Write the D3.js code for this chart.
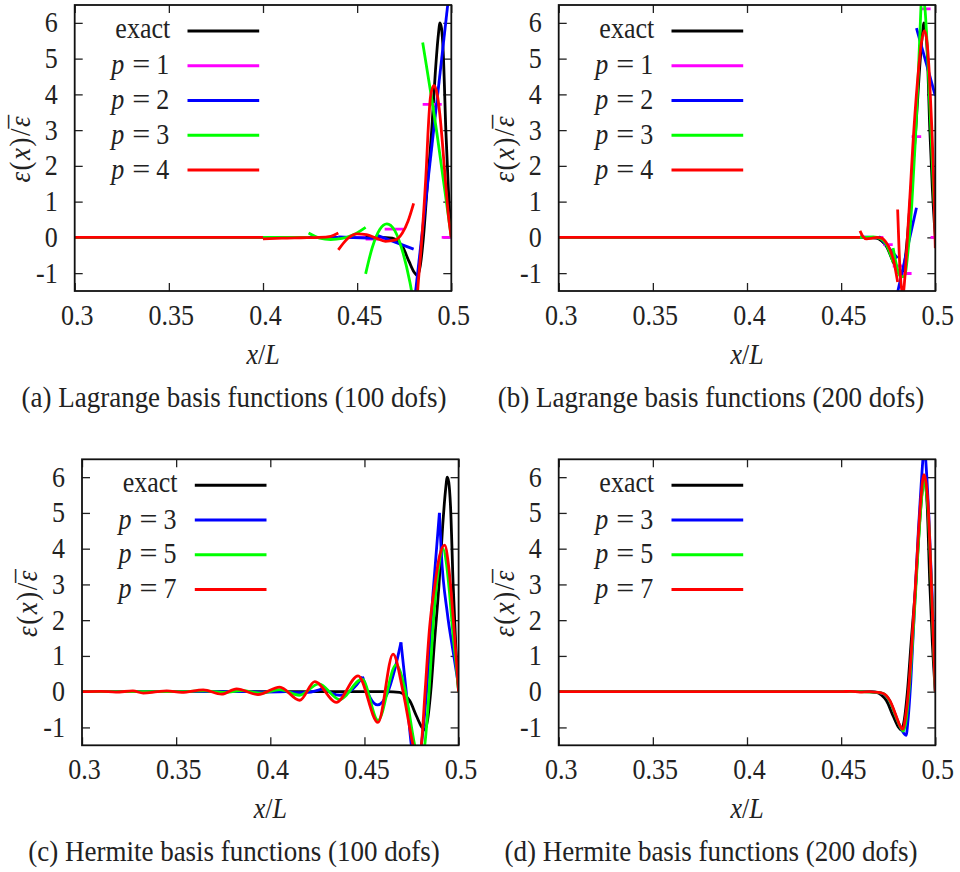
<!DOCTYPE html>
<html><head><meta charset="utf-8">
<script src="https://cdn.jsdelivr.net/npm/d3@7"></script>
<style>
body{margin:0;background:#fff}
svg{display:block}
text{font-family:"Liberation Serif","Times New Roman",serif;fill:#222}
</style>
</head><body>
<svg id="chart" width="960" height="872"></svg>
<script>
// ---------- axes ----------
const xTicks = [0.3, 0.35, 0.4, 0.45, 0.5];
const xTickLabels = ["0.3", "0.35", "0.4", "0.45", "0.5"];
const yTicks = [-1, 0, 1, 2, 3, 4, 5, 6];
const yTickLabels = ["-1", "0", "1", "2", "3", "4", "5", "6"];
const xDomain = [0.3, 0.5];
const yDomain = [-1.5, 6.5];

// ---------- exact solution (shared by all panels) ----------
const exact = [[[0.3,0],[0.462,0.0],[0.4687,-0.02],[0.4715,-0.1],[0.474,-0.25],[0.4776,-0.68],[0.4802,-0.97],[0.482,-1.07],[0.4835,-0.8],[0.4852,0.0],[0.4872,1.4],[0.4896,3.0],[0.4915,4.6],[0.493,5.6],[0.494,6.0],[0.4948,5.85],[0.4957,5.2],[0.4971,3.0],[0.4985,1.3],[0.5,0.0]]];

// ---------- (a) Lagrange, 100 dofs ----------
const aP1 = [[[0.3,0],[0.4545,0]],[[0.4545,-0.05],[0.4646,-0.05]],[[0.4646,0.23],[0.4747,0.23]],[[0.4747,-2.2],[0.4848,-2.2]],[[0.4848,3.72],[0.4949,3.72]],[[0.4949,0],[0.5,0]]];
const aP2 = [[[0.3,0],[0.44,0]],[[0.44,0.01],[0.46,-0.03]],[[0.46,0.07],[0.48,-0.33]],[[0.48,-2.0],[0.5,7.4]]];
const aP3 = [[[0.3,0],[0.4242,0]],[[0.4242,0.12],[0.43,-0.02],[0.436,-0.06],[0.442,-0.03],[0.448,0.07],[0.4545,0.28]],[[0.4545,-1.02],[0.458,-0.29],[0.462,0.22],[0.4658,0.38],[0.47,0.19],[0.474,-0.37],[0.478,-1.25],[0.4848,-3.6]],[[0.4848,5.45],[0.4924,2.9],[0.5,0.0]]];
const aP4 = [[[0.3,0],[0.4,0]],[[0.4,-0.04],[0.41,-0.02],[0.42,-0.01],[0.43,0.0],[0.436,0.03],[0.44,0.12]],[[0.44,-0.35],[0.445,-0.03],[0.45,0.1],[0.455,0.08],[0.46,-0.02],[0.465,-0.11],[0.47,-0.08],[0.474,0.12],[0.477,0.45],[0.48,0.95]],[[0.48,-3.3],[0.482,-1.6],[0.4844,0.0],[0.4868,2.0],[0.4876,2.9],[0.489,3.95],[0.4908,4.25],[0.4925,4.0],[0.494,3.4],[0.4955,2.5],[0.497,1.5],[0.4985,0.6],[0.5,0.0]]];

// ---------- (b) Lagrange, 200 dofs ----------
const bP1 = [[[0.3,0],[0.4724,0]],[[0.4724,-0.2],[0.4774,-0.2]],[[0.4774,-0.8],[0.4824,-0.8]],[[0.4824,-1.01],[0.4874,-1.01]],[[0.4874,2.82],[0.4925,2.82]],[[0.4925,6.39],[0.4975,6.39]],[[0.4975,0],[0.5,0]]];
const bP2 = [[[0.3,0],[0.46,0]],[[0.46,0.01],[0.47,-0.01]],[[0.47,0.03],[0.48,-0.58]],[[0.48,-1.53],[0.49,0.83]],[[0.49,5.85],[0.5,3.96]]];
const bP3 = [[[0.3,0],[0.4627,0]],[[0.4627,0.0],[0.467,0.01],[0.471,-0.04],[0.474,-0.2],[0.4776,-0.7]],[[0.4776,-0.3],[0.4795,-0.8],[0.4815,-1.1],[0.4835,-1.1],[0.4855,-0.4],[0.4875,0.9],[0.4895,2.8],[0.491,4.6],[0.4925,6.6]],[[0.4925,6.9],[0.4945,6.4],[0.496,5.0],[0.4975,3.2],[0.499,1.4],[0.5,0.3]]];
const bP4 = [[[0.3,0],[0.46,0]],[[0.46,0.18],[0.4615,0.03],[0.4635,-0.04],[0.466,-0.03],[0.469,0.0],[0.4715,-0.02],[0.474,-0.15],[0.476,-0.35],[0.478,-0.68],[0.48,-1.25]],[[0.48,0.78],[0.4808,-0.4],[0.4818,-1.3],[0.4828,-1.6],[0.4838,-1.15],[0.4853,0.1],[0.4867,1.3],[0.488,2.5],[0.4906,4.4],[0.4925,5.4],[0.4942,5.78],[0.4955,5.5],[0.4968,4.6],[0.4982,3.0],[0.4993,1.3],[0.5,-0.3]]];

// ---------- (c) Hermite, 100 dofs ----------
const cP3 = [[[0.3,0],[0.3878,0.0]],[[0.3878,0.0],[0.398,-0.01],[0.4082,0.0]],[[0.4082,0.0],[0.414,-0.03],[0.42,-0.02],[0.4286,0.1]],[[0.4286,0.1],[0.433,-0.05],[0.437,-0.1],[0.442,0.0],[0.446,0.2],[0.449,0.42]],[[0.449,0.42],[0.453,-0.17],[0.457,-0.37],[0.462,-0.07],[0.466,0.6],[0.4694,1.38]],[[0.4694,1.38],[0.4722,0.0],[0.4749,-1.5],[0.4775,-2.3],[0.4802,-1.5],[0.483,0.0],[0.4864,2.75],[0.4898,5.0]],[[0.4898,5.0],[0.4908,3.9],[0.494,2.2],[0.497,1.15],[0.5,0.15]]];
const cP5 = [[[0.3,0],[0.35,0.0],[0.365,0.02],[0.375,-0.02],[0.385,0.03],[0.395,-0.04],[0.405,0.06],[0.4155,-0.1],[0.4258,0.22],[0.4368,-0.22],[0.4488,0.35],[0.4572,-0.8],[0.4668,0.75],[0.4718,0.0],[0.4767,-1.5],[0.4792,-2.0],[0.482,-1.5],[0.4843,0.0],[0.4864,1.8],[0.489,3.3],[0.4917,4.0],[0.4935,3.6],[0.4952,2.75],[0.497,1.6],[0.4988,0.7],[0.5,0.0]]];
const cP7 = [[[0.3,0.0],[0.31,0.01],[0.318,-0.01],[0.327,0.02],[0.3325,-0.04],[0.34,0.0],[0.345,0.02],[0.353,-0.02],[0.3644,0.05],[0.3741,-0.07],[0.3821,0.08],[0.3935,-0.08],[0.405,0.13],[0.4157,-0.24],[0.4236,0.28],[0.4351,-0.3],[0.4466,0.44],[0.4572,-0.86],[0.4652,1.05],[0.4705,0.0],[0.4758,-1.5],[0.478,-2.0],[0.4802,-1.5],[0.4822,0.0],[0.4846,1.8],[0.4873,2.95],[0.4899,3.8],[0.4926,4.1],[0.4945,3.6],[0.4961,2.75],[0.4975,1.8],[0.4988,0.9],[0.5,0.0]]];

// ---------- (d) Hermite, 200 dofs ----------
const dP3 = [[[0.3,0],[0.46,0],[0.465,0.01],[0.469,-0.02],[0.4724,-0.06],[0.4759,-0.27],[0.4795,-0.75],[0.4815,-1.0],[0.4835,-1.18],[0.4845,-1.22],[0.4855,-0.8],[0.487,0.3],[0.4892,2.6],[0.491,4.5],[0.4925,5.8],[0.4942,6.8],[0.4955,6.0],[0.4965,5.0],[0.4975,3.7],[0.4985,2.5],[0.4993,1.2],[0.5,0.0]]];
const dP5 = [[[0.3,0],[0.46,0],[0.468,-0.01],[0.4724,-0.05],[0.4759,-0.27],[0.4795,-0.75],[0.4815,-1.0],[0.483,-1.1],[0.4845,-0.8],[0.486,0.0],[0.4878,1.3],[0.4895,2.75],[0.491,4.1],[0.4924,5.2],[0.494,5.9],[0.4952,5.6],[0.4963,4.95],[0.4972,3.9],[0.4981,2.7],[0.4991,1.3],[0.5,0.0]]];
const dP7 = [[[0.3,0],[0.45,0.0],[0.455,0.01],[0.46,-0.01],[0.465,0.0],[0.468,-0.01],[0.4724,-0.05],[0.4759,-0.25],[0.4795,-0.72],[0.4812,-0.95],[0.4827,-1.05],[0.4842,-0.7],[0.4857,0.0],[0.4875,1.3],[0.4892,2.75],[0.4908,4.2],[0.4922,5.3],[0.494,6.07],[0.4952,5.8],[0.4963,5.1],[0.4972,4.0],[0.4981,2.75],[0.4991,1.3],[0.5,0.0]]];

// ---------- labels ----------
const lagrangeOrders = [1, 2, 3, 4];
const hermiteOrders = [3, 5, 7];
const captions = [
  "(a) Lagrange basis functions (100 dofs)",
  "(b) Lagrange basis functions (200 dofs)",
  "(c) Hermite basis functions (100 dofs)",
  "(d) Hermite basis functions (200 dofs)"
];

// ---------- styling / layout ----------
const C = {black:"#000000", magenta:"#ff00ff", blue:"#0000ff", green:"#00ff00", red:"#ff0000"};
const PW = 376.6, PH = 286;
const SY = 1.1;   // vertical stretch of the lettering in the original figure
const FS = 26;
const SERIF = '"Liberation Serif","Times New Roman",serif';
const panels = [
  {left:74.7, top:5, cx:234, caption:captions[0], orders:lagrangeOrders,
   series:[exact,aP1,aP2,aP3,aP4], colors:[C.black,C.magenta,C.blue,C.green,C.red], smooth:[true,false,false,true,true]},
  {left:558.7, top:5, cx:711, caption:captions[1], orders:lagrangeOrders,
   series:[exact,bP1,bP2,bP3,bP4], colors:[C.black,C.magenta,C.blue,C.green,C.red], smooth:[true,false,false,true,true]},
  {left:82, top:459.3, cx:234, caption:captions[2], orders:hermiteOrders,
   series:[exact,cP3,cP5,cP7], colors:[C.black,C.blue,C.green,C.red], smooth:[true,true,true,true]},
  {left:558.7, top:459.3, cx:711, caption:captions[3], orders:hermiteOrders,
   series:[exact,dP3,dP5,dP7], colors:[C.black,C.blue,C.green,C.red], smooth:[true,true,true,true]}
];

const svg = d3.select("#chart");

function addText(parent, x, y, str, size, anchor) {
  return parent.append("text")
    .attr("transform", `translate(${x},${y}) scale(1,${SY})`)
    .attr("text-anchor", anchor || "start")
    .attr("font-family", SERIF)
    .attr("font-size", size)
    .text(str);
}

panels.forEach((p, pi) => {
  const x = d3.scaleLinear().domain(xDomain).range([p.left, p.left + PW]);
  const y = d3.scaleLinear().domain(yDomain).range([p.top + PH, p.top]);
  const g = svg.append("g");
  const clipId = "clip" + pi;
  g.append("clipPath").attr("id", clipId).append("rect")
    .attr("x", p.left).attr("y", p.top).attr("width", PW).attr("height", PH);

  // ticks (inward, mirrored) via d3 axes
  const tl = 8;
  const axB = g.append("g").attr("transform", `translate(0,${p.top+PH})`)
    .call(d3.axisBottom(x).tickValues(xTicks).tickSizeInner(-tl).tickSizeOuter(0)
      .tickFormat((d,i)=>xTickLabels[i]));
  const axT = g.append("g").attr("transform", `translate(0,${p.top})`)
    .call(d3.axisTop(x).tickValues(xTicks).tickSizeInner(-tl).tickSizeOuter(0).tickFormat(""));
  const axL = g.append("g").attr("transform", `translate(${p.left},0)`)
    .call(d3.axisLeft(y).tickValues(yTicks).tickSizeInner(-tl).tickSizeOuter(0)
      .tickFormat((d,i)=>yTickLabels[i]));
  const axR = g.append("g").attr("transform", `translate(${p.left+PW},0)`)
    .call(d3.axisRight(y).tickValues(yTicks).tickSizeInner(-tl).tickSizeOuter(0).tickFormat(""));
  [axB,axT,axL,axR].forEach(a => {
    a.attr("font-family", SERIF).attr("font-size", FS);
    a.select(".domain").remove();
    a.selectAll("line").attr("stroke","#222").attr("stroke-width",1.3);
    a.selectAll("text").attr("font-family", SERIF).attr("font-size",FS).attr("fill","#222");
  });
  axB.selectAll("text").attr("x", null).attr("y", null).attr("dy", null)
    .attr("transform", `translate(2,34) scale(1,${SY})`);
  axL.selectAll("text").attr("x", null).attr("y", null).attr("dy", null)
    .attr("transform", `translate(-17,9) scale(1,${SY})`);

  // curves
  const cg = g.append("g").attr("clip-path", `url(#${clipId})`);
  p.series.forEach((segs, si) => {
    const line = d3.line().x(d=>x(d[0])).y(d=>y(d[1]))
      .curve(p.smooth[si] ? d3.curveMonotoneX : d3.curveLinear);
    cg.selectAll(null).data(segs).enter().append("path")
      .attr("d", line).attr("fill","none")
      .attr("stroke", p.colors[si]).attr("stroke-width", 2.8)
      .attr("stroke-linejoin","round");
  });

  // frame
  g.append("rect").attr("x", p.left).attr("y", p.top).attr("width", PW).attr("height", PH)
    .attr("fill","none").attr("stroke","#111").attr("stroke-width",1.8);

  // legend
  const lx0 = p.left + 112.8, lx1 = p.left + 184.5, tx = p.left + 95.5;
  const labels = ["exact"].concat(p.orders);
  labels.forEach((lab, i) => {
    const ly = p.top + 26 + i * 34.75;
    g.append("line").attr("x1", lx0).attr("x2", lx1).attr("y1", ly).attr("y2", ly)
      .attr("stroke", p.colors[i]).attr("stroke-width", 3);
    if (i === 0) {
      addText(g, tx, ly + 7, lab, FS, "end");
    } else {
      addText(g, tx - 1, ly + 8.5, String(lab), FS, "end");
      addText(g, tx - 29, ly + 8.5, "=", FS, "middle")
        .attr("textLength", 18).attr("lengthAdjust","spacingAndGlyphs");
      addText(g, tx - 46, ly + 8.5, "p", FS, "end").attr("font-style","italic");
    }
  });

  // y label
  const ylab = g.append("text")
    .attr("transform", `translate(${p.left - 45},${p.top + PH/2}) rotate(-90) scale(1,${SY})`)
    .attr("font-family", SERIF)
    .attr("text-anchor","middle").attr("font-size", FS + 1).attr("letter-spacing", "1.5px");
  ylab.append("tspan").attr("font-style","italic").text("ε");
  ylab.append("tspan").text("(");
  ylab.append("tspan").attr("font-style","italic").text("x");
  ylab.append("tspan").text(")/");
  ylab.append("tspan").attr("font-style","italic").text("ε");
  ylab.append("tspan").attr("dx", -13.5).attr("dy", 0).text("¯");

  // x label
  const xlab = g.append("text")
    .attr("transform", `translate(${p.left + PW/2},${p.top + PH + 73}) scale(1,${SY})`)
    .attr("font-family", SERIF)
    .attr("text-anchor","middle").attr("font-size", FS);
  xlab.append("tspan").attr("font-style","italic").text("x");
  xlab.append("tspan").text("/");
  xlab.append("tspan").attr("font-style","italic").text("L");

  // caption
  addText(g, p.cx, p.top + PH + 116, p.caption, 27, "middle");
});
</script>
</body></html>
